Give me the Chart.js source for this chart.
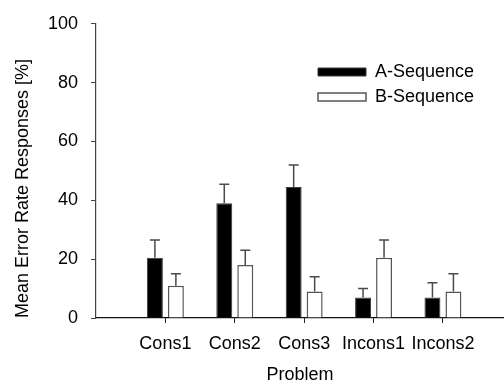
<!DOCTYPE html>
<html>
<head>
<meta charset="utf-8">
<script src="https://cdn.jsdelivr.net/npm/chart.js@4/dist/chart.umd.min.js"></script>
<style>
  html, body { margin: 0; padding: 0; background: #fff; }
  #wrap { width: 504px; height: 385px; position: relative; }
</style>
</head>
<body>
<div id="wrap"><canvas id="c" width="504" height="385"></canvas></div>
<script>
const categories = ['Cons1', 'Cons2', 'Cons3', 'Incons1', 'Incons2'];
const seriesNames = ['A-Sequence', 'B-Sequence'];
const seriesA = [20.5, 39, 44.5, 7, 7];
const seriesB = [11, 18, 9, 20.5, 9];
const errA = [6, 6.5, 7.5, 3, 5];
const errB = [4, 5, 5, 6, 6];
const yTicks = [0, 20, 40, 60, 80, 100];

const FONT = "'Liberation Sans', Arial, sans-serif";
Chart.defaults.font.family = FONT;
Chart.defaults.font.size = 18;
Chart.defaults.color = '#000';

const errorBars = {
  id: 'errorBars',
  afterDatasetsDraw(chart) {
    const ctx = chart.ctx;
    const yScale = chart.scales.y;
    chart.data.datasets.forEach((ds, di) => {
      const meta = chart.getDatasetMeta(di);
      meta.data.forEach((el, i) => {
        const v = ds.data[i].y;
        const e = ds.errors[i];
        const yTop = yScale.getPixelForValue(v + e);
        const yBase = yScale.getPixelForValue(v);
        ctx.save();
        ctx.strokeStyle = '#4a4a4a';
        ctx.lineWidth = 1.5;
        ctx.beginPath();
        ctx.moveTo(el.x, yBase);
        ctx.lineTo(el.x, yTop);
        ctx.moveTo(el.x - 5, yTop);
        ctx.lineTo(el.x + 5, yTop);
        ctx.stroke();
        ctx.restore();
      });
    });
  }
};

const legendPos = {
  id: 'legendPos',
  afterLayout(chart) {
    const l = chart.legend;
    if (!l) return;
    l.left = 311; l.right = 504; l.top = 56; l.bottom = 130;
    l.width = l.right - l.left; l.height = l.bottom - l.top;
    if (l.adjustHitBoxes) l.adjustHitBoxes();
  }
};

new Chart(document.getElementById('c'), {
  type: 'bar',
  data: {
    datasets: [
      {
        label: seriesNames[0],
        data: categories.map((c, i) => ({ x: i + 1, y: seriesA[i] })),
        errors: errA,
        backgroundColor: '#000',
        borderColor: '#3a3a3a',
        borderWidth: 1
      },
      {
        label: seriesNames[1],
        data: categories.map((c, i) => ({ x: i + 1, y: seriesB[i] })),
        errors: errB,
        backgroundColor: '#fff',
        borderColor: '#555',
        borderWidth: 1.5
      }
    ]
  },
  options: {
    responsive: false,
    animation: false,
    events: [],
    layout: { padding: { top: 17, left: 0, right: 0, bottom: 0 } },
    categoryPercentage: 0.605,
    barPercentage: 0.76,
    plugins: {
      tooltip: { enabled: false },
      legend: {
        position: 'chartArea',
        align: 'start',
        labels: {
          boxWidth: 48,
          boxHeight: 8,
          padding: 7,
          font: { size: 18, family: FONT },
          color: '#000'
        }
      }
    },
    scales: {
      x: {
        type: 'linear',
        offset: false,
        min: 0,
        max: 5.88,
        afterBuildTicks(s) { s.ticks = categories.map((c, i) => ({ value: i + 1 })); },
        afterFit(s) { s.height = 67; },
        ticks: {
          autoSkip: false,
          maxRotation: 0,
          minRotation: 0,
          padding: 10,
          font: { size: 18 },
          color: '#000',
          callback: (v) => categories[Math.round(v) - 1] || ''
        },
        grid: { display: true, offset: false, drawOnChartArea: false, drawTicks: true, tickLength: 5, color: '#222', lineWidth: 1 },
        border: { display: true, color: '#111', width: 1.2 },
        title: { display: true, text: 'Problem', font: { size: 18 }, color: '#000', padding: { top: 0, bottom: -1 } }
      },
      y: {
        min: 0,
        max: 100,
        afterBuildTicks(s) { s.ticks = yTicks.map(v => ({ value: v })); },
        afterFit(s) { s.width = 96; },
        ticks: { padding: 13, font: { size: 18 }, color: '#000' },
        grid: { display: true, drawOnChartArea: false, drawTicks: true, tickLength: 5, color: '#444', lineWidth: 1 },
        border: { display: true, color: '#444', width: 1.2 },
        title: { display: true, text: 'Mean Error Rate Responses [%]', align: 'start', font: { size: 18 }, color: '#000', padding: { top: 12, bottom: 0 } }
      }
    }
  },
  plugins: [errorBars, legendPos]
});
</script>
</body>
</html>
